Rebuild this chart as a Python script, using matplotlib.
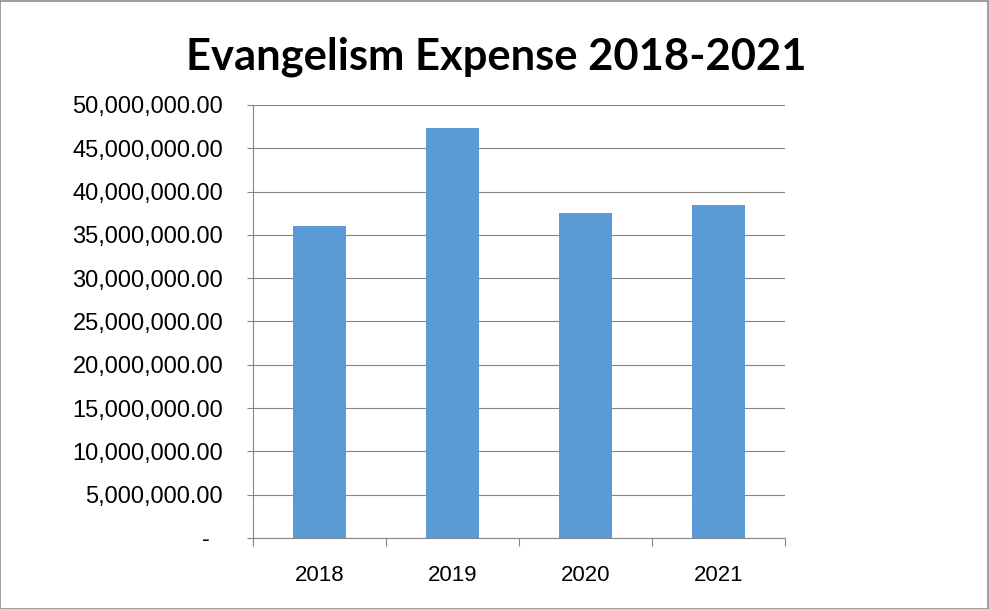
import matplotlib.pyplot as plt
from matplotlib.patches import Rectangle
from matplotlib.ticker import FuncFormatter

years = ["2018", "2019", "2020", "2021"]
expense = [36_000_000, 47_300_000, 37_550_000, 38_450_000]

BAR_COLOR = "#5B9BD5"
GRID_COLOR = "#868686"
LABEL_FONT = "Liberation Sans"


def money(v, pos):
    if v == 0:
        return "-  "
    return f"{v:,.2f}"


fig = plt.figure(figsize=(9.89, 6.09), dpi=100)
ax = fig.add_axes([0.2558, 0.1166, 0.538, 0.711])

x = list(range(len(years)))
ax.bar(x, expense, width=0.4, color=BAR_COLOR, zorder=3)

ax.set_xlim(-0.5, len(years) - 0.5)
ax.set_ylim(0, 50_000_000)
ax.set_yticks(range(0, 50_000_001, 5_000_000))
ax.yaxis.set_major_formatter(FuncFormatter(money))

# category boundaries get the tick marks, centres get the labels
ax.set_xticks([i - 0.5 for i in range(len(years) + 1)])
ax.set_xticklabels([])
ax.set_xticks(x, minor=True)
ax.set_xticklabels(years, minor=True)
ax.tick_params(axis="x", which="major", length=5.5, width=0.8, color=GRID_COLOR)
ax.tick_params(axis="x", which="minor", length=0, pad=19.5, labelsize=16)
ax.tick_params(axis="y", length=4.5, width=0.8, color=GRID_COLOR, pad=17, labelsize=17)

for lbl in ax.get_xticklabels(minor=True) + ax.get_yticklabels():
    lbl.set_fontfamily(LABEL_FONT)

ax.grid(axis="y", color=GRID_COLOR, linewidth=0.8, zorder=0)
for side in ("top", "right"):
    ax.spines[side].set_visible(False)
for side in ("left", "bottom"):
    ax.spines[side].set_color(GRID_COLOR)
    ax.spines[side].set_linewidth(0.8)

fig.text(0.502, 0.906, "Evangelism Expense 2018-2021", ha="center", va="center",
         fontsize=31.3, fontweight="bold", fontfamily="Lato")

fig.patches.append(Rectangle((0.0005, 0.0008), 0.998, 0.998, transform=fig.transFigure,
                             fill=False, edgecolor="#8C8C8C", linewidth=1.2))

fig.savefig("out.png", dpi=100)
